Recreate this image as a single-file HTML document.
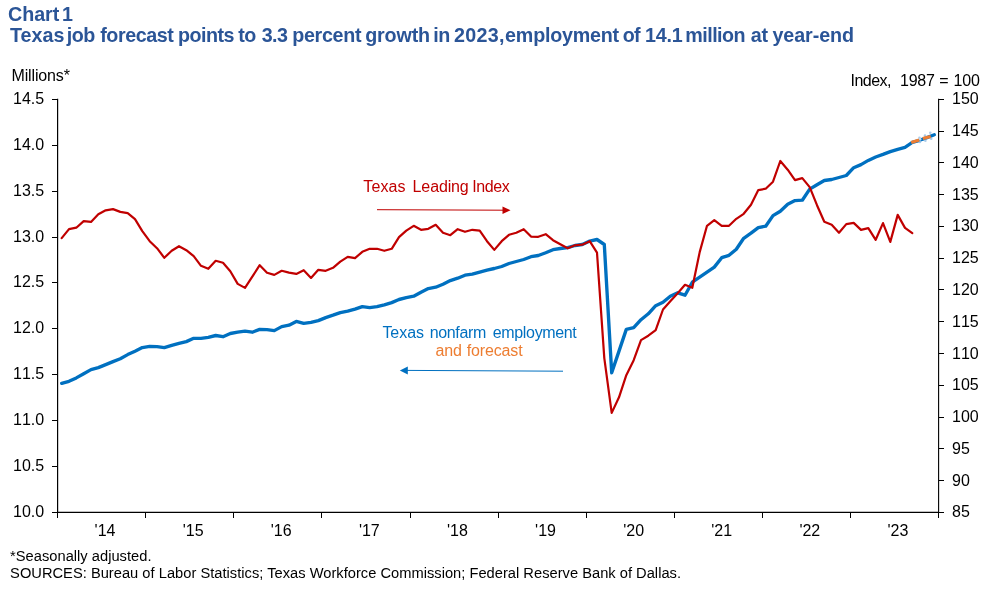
<!DOCTYPE html>
<html lang="en"><head><meta charset="utf-8"><title>Chart 1</title>
<style>
html,body{margin:0;padding:0;background:#fff;}
body{width:997px;height:589px;overflow:hidden;}
svg{display:block;}
text{font-family:"Liberation Sans",Arial,sans-serif;fill:#000;white-space:pre;}
.t{font-weight:bold;font-size:19.7px;fill:#2B5597;}
.a{font-size:16px;letter-spacing:-0.15px;}
.n{font-size:16px;font-kerning:none;}
.f{font-size:14.67px;letter-spacing:0.02px;}
</style></head><body>
<svg width="997" height="589" viewBox="0 0 997 589">
<rect width="997" height="589" fill="#fff"/>
<text class="t" y="20.90" id="t1"><tspan x="8.00" style="letter-spacing:-0.05px">Chart </tspan><tspan x="62.10">1</tspan></text>
<text class="t" y="41.75" id="t2"><tspan x="9.90" style="letter-spacing:0.05px">Texas </tspan><tspan x="66.80" style="letter-spacing:-0.50px">job </tspan><tspan x="100.20" style="letter-spacing:-0.41px">forecast </tspan><tspan x="178.00" style="letter-spacing:-0.50px">points </tspan><tspan x="238.20" style="letter-spacing:-0.60px">to </tspan><tspan x="261.70" style="letter-spacing:-0.60px">3.3 </tspan><tspan x="292.30" style="letter-spacing:-0.33px">percent </tspan><tspan x="365.20" style="letter-spacing:-0.14px">growth </tspan><tspan x="433.20" style="letter-spacing:-0.30px">in </tspan><tspan x="454.10" style="letter-spacing:0.25px">2023, </tspan><tspan x="505.10" style="letter-spacing:-0.21px">employment </tspan><tspan x="622.70" style="letter-spacing:-0.60px">of </tspan><tspan x="644.90" style="letter-spacing:-0.15px">14.1 </tspan><tspan x="685.30" style="letter-spacing:-0.53px">million </tspan><tspan x="750.70" style="letter-spacing:-0.10px">at </tspan><tspan x="772.40" style="letter-spacing:-0.06px">year-end</tspan></text>
<text class="a" x="11.50" y="81.00" id="mil">Millions*</text>
<text class="a" y="85.60" id="idx"><tspan x="850.60" style="letter-spacing:-0.55px">Index,  </tspan><tspan x="900.00" style="letter-spacing:-0.25px">1987 </tspan><tspan x="939.30" style="letter-spacing:-0.25px">= </tspan><tspan x="953.60" style="letter-spacing:-0.25px">100</tspan></text>
<g stroke="#000" fill="none">
<path stroke-width="1.2" d="M57.6,98.8 V513.0"/><path stroke-width="1.3" d="M57.0,512.4 H939.1"/><path stroke-width="1.1" d="M938.6,98.8 V513.0"/>
<path stroke-width="1" shape-rendering="crispEdges" d="M57.6,99.5 h-5.5 M57.6,145.5 h-5.5 M57.6,191.5 h-5.5 M57.6,237.5 h-5.5 M57.6,282.5 h-5.5 M57.6,328.5 h-5.5 M57.6,374.5 h-5.5 M57.6,420.5 h-5.5 M57.6,466.5 h-5.5 M57.6,512.5 h-5.5 M938.6,99.5 h5.5 M938.6,131.5 h5.5 M938.6,162.5 h5.5 M938.6,194.5 h5.5 M938.6,226.5 h5.5 M938.6,258.5 h5.5 M938.6,289.5 h5.5 M938.6,321.5 h5.5 M938.6,353.5 h5.5 M938.6,385.5 h5.5 M938.6,417.5 h5.5 M938.6,448.5 h5.5 M938.6,480.5 h5.5 M938.6,512.5 h5.5 M57.5,512.4 v5.5 M145.5,512.4 v5.5 M233.5,512.4 v5.5 M321.5,512.4 v5.5 M410.5,512.4 v5.5 M498.5,512.4 v5.5 M586.5,512.4 v5.5 M674.5,512.4 v5.5 M762.5,512.4 v5.5 M850.5,512.4 v5.5 M938.5,512.4 v5.5 "/>
</g>
<text class="n" x="44.20" y="104.10" text-anchor="end">14.5</text>
<text class="n" x="44.20" y="149.93" text-anchor="end">14.0</text>
<text class="n" x="44.20" y="195.76" text-anchor="end">13.5</text>
<text class="n" x="44.20" y="241.59" text-anchor="end">13.0</text>
<text class="n" x="44.20" y="287.42" text-anchor="end">12.5</text>
<text class="n" x="44.20" y="333.25" text-anchor="end">12.0</text>
<text class="n" x="44.20" y="379.08" text-anchor="end">11.5</text>
<text class="n" x="44.20" y="424.91" text-anchor="end">11.0</text>
<text class="n" x="44.20" y="470.74" text-anchor="end">10.5</text>
<text class="n" x="44.20" y="516.57" text-anchor="end">10.0</text>
<text class="n" x="952.00" y="104.30">150</text>
<text class="n" x="952.00" y="136.08">145</text>
<text class="n" x="952.00" y="167.85">140</text>
<text class="n" x="952.00" y="199.63">135</text>
<text class="n" x="952.00" y="231.41">130</text>
<text class="n" x="952.00" y="263.18">125</text>
<text class="n" x="952.00" y="294.96">120</text>
<text class="n" x="952.00" y="326.74">115</text>
<text class="n" x="952.00" y="358.52">110</text>
<text class="n" x="952.00" y="390.29">105</text>
<text class="n" x="952.00" y="422.07">100</text>
<text class="n" x="952.00" y="453.85">95</text>
<text class="n" x="952.00" y="485.62">90</text>
<text class="n" x="952.00" y="517.40">85</text>
<text class="n" x="105.05" y="536.00" text-anchor="middle">'14</text>
<text class="n" x="193.15" y="536.00" text-anchor="middle">'15</text>
<text class="n" x="281.25" y="536.00" text-anchor="middle">'16</text>
<text class="n" x="369.35" y="536.00" text-anchor="middle">'17</text>
<text class="n" x="457.45" y="536.00" text-anchor="middle">'18</text>
<text class="n" x="545.55" y="536.00" text-anchor="middle">'19</text>
<text class="n" x="633.65" y="536.00" text-anchor="middle">'20</text>
<text class="n" x="721.75" y="536.00" text-anchor="middle">'21</text>
<text class="n" x="809.85" y="536.00" text-anchor="middle">'22</text>
<text class="n" x="897.95" y="536.00" text-anchor="middle">'23</text>
<path d="M61.7,383.3 L69.0,381.3 L76.3,377.9 L83.7,373.7 L91.0,369.6 L98.3,367.6 L105.7,364.6 L113.0,361.6 L120.3,358.8 L127.7,354.6 L135.0,351.2 L142.3,347.6 L149.7,346.4 L157.0,346.6 L164.3,347.6 L171.7,345.4 L179.0,343.4 L186.3,341.6 L193.7,338.3 L201.0,338.3 L208.3,337.3 L215.7,335.5 L223.0,336.7 L230.3,333.5 L237.7,332.2 L245.0,331.2 L252.3,332.2 L259.7,329.4 L267.0,329.6 L274.3,330.6 L281.7,326.6 L289.0,325.2 L296.3,321.4 L303.7,323.4 L311.0,322.4 L318.3,320.6 L325.7,317.6 L333.0,315.2 L340.3,312.6 L347.7,311.2 L355.0,309.2 L362.3,306.6 L369.7,307.6 L377.0,306.6 L384.3,304.8 L391.7,302.6 L399.0,299.5 L406.3,297.7 L413.7,296.2 L421.0,292.2 L428.3,288.6 L435.7,287.2 L443.0,284.2 L450.3,280.6 L457.7,278.2 L465.0,275.2 L472.3,274.2 L479.7,272.2 L487.0,270.2 L494.3,268.5 L501.7,266.5 L509.0,263.5 L516.3,261.5 L523.7,259.5 L531.0,256.7 L538.3,255.5 L545.7,252.7 L553.0,249.7 L560.3,248.5 L567.7,247.7 L575.0,245.5 L582.3,244.5 L589.7,241.1 L597.0,239.5 L604.3,244.5 L611.7,372.8 L619.0,351.1 L626.3,329.4 L633.7,327.7 L641.0,319.7 L648.3,313.8 L655.7,305.7 L663.0,302.2 L670.3,296.2 L677.7,292.8 L685.0,295.2 L692.3,282.2 L699.7,277.2 L707.0,272.2 L714.3,267.1 L721.7,257.7 L729.0,255.3 L736.3,249.3 L743.7,238.3 L751.0,233.2 L758.3,227.6 L765.7,226.2 L773.0,215.6 L780.3,211.2 L787.7,204.2 L795.0,200.6 L802.3,200.2 L809.7,189.1 L817.0,184.7 L824.3,180.5 L831.7,179.5 L839.0,177.5 L846.3,175.5 L853.7,167.7 L861.0,164.6 L868.3,160.4 L875.7,157.0 L883.0,154.4 L890.3,151.6 L897.7,149.3 L905.0,147.3 L912.3,142.4 L919.7,140.3 L927.0,137.6 L934.3,134.8" fill="none" stroke="#0070C0" stroke-width="3.35" stroke-linejoin="round" stroke-linecap="round"/>
<path d="M61.7,238.1 L69.0,229.1 L76.3,227.7 L83.7,221.1 L91.0,221.9 L98.3,214.3 L105.7,210.3 L113.0,209.1 L120.3,211.9 L127.7,213.1 L135.0,219.1 L142.3,231.1 L149.7,241.2 L157.0,248.2 L164.3,257.8 L171.7,250.8 L179.0,246.2 L186.3,250.2 L193.7,256.2 L201.0,265.8 L208.3,268.8 L215.7,260.8 L223.0,262.8 L230.3,271.2 L237.7,283.9 L245.0,287.9 L252.3,276.7 L259.7,265.2 L267.0,272.8 L274.3,274.9 L281.7,270.8 L289.0,272.6 L296.3,273.9 L303.7,270.2 L311.0,277.9 L318.3,269.8 L325.7,270.8 L333.0,267.8 L340.3,261.6 L347.7,256.8 L355.0,258.2 L362.3,251.8 L369.7,248.8 L377.0,248.8 L384.3,250.8 L391.7,248.8 L399.0,237.1 L406.3,230.7 L413.7,225.8 L421.0,229.8 L428.3,228.8 L435.7,224.8 L443.0,232.8 L450.3,235.2 L457.7,229.2 L465.0,231.8 L472.3,229.8 L479.7,230.6 L487.0,241.2 L494.3,249.9 L501.7,241.2 L509.0,234.8 L516.3,232.8 L523.7,229.2 L531.0,236.6 L538.3,236.8 L545.7,234.2 L553.0,240.2 L560.3,244.3 L567.7,248.3 L575.0,245.3 L582.3,244.7 L589.7,241.2 L597.0,252.7 L604.3,358.1 L611.7,412.9 L619.0,397.3 L626.3,375.2 L633.7,360.2 L641.0,340.1 L648.3,335.7 L655.7,330.1 L663.0,309.5 L670.3,301.2 L677.7,293.2 L685.0,284.8 L692.3,287.8 L699.7,252.1 L707.0,225.8 L714.3,220.2 L721.7,225.8 L729.0,225.8 L736.3,218.8 L743.7,213.8 L751.0,204.8 L758.3,190.1 L765.7,188.7 L773.0,181.7 L780.3,161.0 L787.7,169.7 L795.0,180.1 L802.3,178.1 L809.7,187.1 L817.0,205.2 L824.3,221.8 L831.7,224.8 L839.0,232.8 L846.3,224.1 L853.7,222.9 L861.0,229.9 L868.3,228.1 L875.7,239.8 L883.0,223.1 L890.3,241.9 L897.7,214.9 L905.0,227.9 L912.3,233.1" fill="none" stroke="#C00000" stroke-width="2.2" stroke-linejoin="round" stroke-linecap="round"/>
<g fill="#9DC3E6" opacity="0.85"><circle cx="919.5" cy="137.8" r="1.3"/><circle cx="919.9" cy="141.9" r="1.3"/><circle cx="925" cy="135.6" r="1.3"/><circle cx="925.4" cy="140.7" r="1.3"/><circle cx="930.3" cy="132.7" r="1.3"/><circle cx="931.2" cy="138.8" r="1.3"/></g>
<circle cx="920.2" cy="139.2" r="1.2" fill="#cfe3f5" opacity="0.9"/>
<path d="M911.2,142.5 L919.2,140.05 M922.8,138.6 L930.7,136.4" fill="none" stroke="#ED7D31" stroke-width="3.1"/>
<text class="a" y="192.10" style="fill:#C00000" id="tli"><tspan x="363.30" style="letter-spacing:0.10px">Texas </tspan><tspan x="412.60" style="letter-spacing:-0.13px">Leading </tspan><tspan x="472.30" style="letter-spacing:-0.45px">Index</tspan></text>
<path d="M377,209.7 L503,210.2" stroke="#C00000" stroke-width="1" fill="none"/><path d="M510.5,210.2 l-8,-3.8 v7.6 z" fill="#C00000"/>
<text class="a" y="337.50" style="fill:#0070C0" id="tne"><tspan x="382.40" style="letter-spacing:-0.05px">Texas </tspan><tspan x="429.70" style="letter-spacing:-0.35px">nonfarm </tspan><tspan x="492.80" style="letter-spacing:-0.35px">employment</tspan></text>
<text class="a" y="355.50" style="fill:#ED7D31" id="af"><tspan x="435.60">and </tspan><tspan x="466.80">forecast</tspan></text>
<path d="M407,370.4 L563,371.2" stroke="#0070C0" stroke-width="1" fill="none"/><path d="M399.8,370.4 l8,-4 v8 z" fill="#0070C0"/>
<text class="f" x="10.10" y="560.60" id="f1">*Seasonally adjusted.</text>
<text class="f" x="10.10" y="577.60" id="f2">SOURCES: Bureau of Labor Statistics; Texas Workforce Commission; Federal Reserve Bank of Dallas.</text>
</svg>
</body></html>
